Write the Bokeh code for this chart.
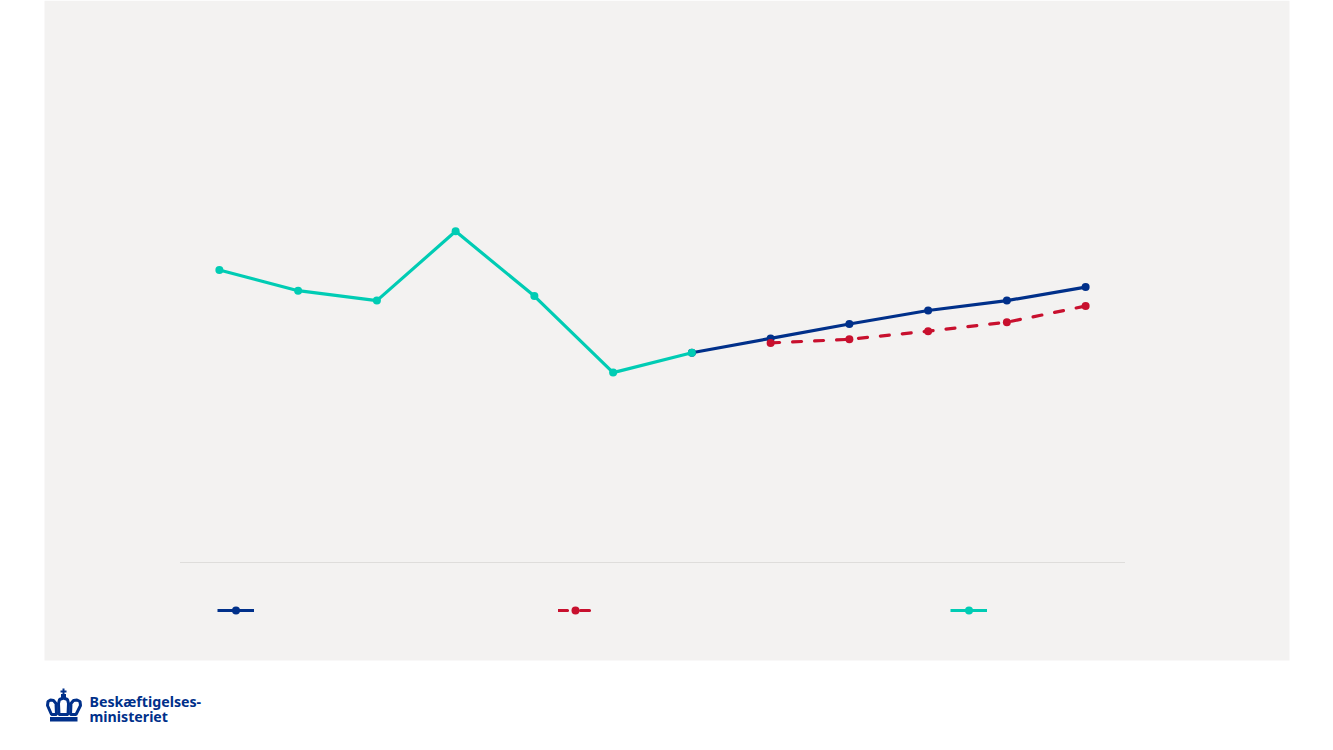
from bokeh.plotting import figure
from bokeh.models import Range1d, BoxAnnotation, PolyAnnotation, Label, Legend, LegendItem
from bokeh.embed import file_html
from bokeh.resources import INLINE

teal_x = [0, 1, 2, 3, 4, 5, 6]
teal_y = [3.25, 3.02, 2.91, 3.68, 2.96, 2.11, 2.33]
blue_x = [6, 7, 8, 9, 10, 11]
blue_y = [2.33, 2.49, 2.65, 2.80, 2.91, 3.06]
red_x = [7, 8, 9, 10, 11]
red_y = [2.44, 2.48, 2.57, 2.67, 2.85]
logo_lines = ["Beskæftigelses-", "ministeriet"]

BLUE, RED, TEAL = "#00308A", "#C8102E", "#00CCB4"
INK = "#00308A"
W, H = 1333, 750
PX_X, PX_Y = 78.75, 90.0   # pixels per unit

p = figure(width=W, height=H, output_backend="svg", toolbar_location=None,
           x_range=Range1d(-0.5 - 179.5 / PX_X, 11.5 + 208.5 / PX_X),
           y_range=Range1d(-188 / PX_Y, 562 / PX_Y),
           x_axis_location=None, y_axis_location=None,
           min_border=0,
           background_fill_color="white", border_fill_color="white", outline_line_color=None)
p.grid.visible = False


def box(l, r, t, b, color, **kw):
    p.add_layout(BoxAnnotation(left=l, right=r, top=H - t, bottom=H - b, left_units="screen", right_units="screen",
                               top_units="screen", bottom_units="screen", fill_color=color, fill_alpha=1,
                               line_color=None, **kw))


box(44, 1289, 0, 660, "#F3F2F1", level="underlay")
p.segment(x0=[-0.5], y0=[0], x1=[11.5], y1=[0], line_color="#DEDDDB", line_width=1)


def series(x, y, color, dash="solid"):
    l = p.line(x, y, line_color=color, line_width=3.2, line_dash=dash, line_cap="round" if dash != "solid" else "butt")
    m = p.scatter(x, y, size=8, marker="circle", fill_color=color, line_color=color, line_width=0)
    return [l, m]


b = series(blue_x, blue_y, BLUE)
r = series(red_x, red_y, RED, "9 13")
t = series(teal_x, teal_y, TEAL)

for rends, lx, gw in ((b, 216.5, 37), (r, 557.5, 34), (t, 950, 37)):
    lg = Legend(items=[LegendItem(label="", renderers=rends)], location=(lx, H - 620), glyph_width=gw, glyph_height=20,
                background_fill_alpha=0, border_line_color=None, margin=0, padding=0, label_standoff=0,
                label_text_font_size="1px", label_width=0, label_height=0)
    p.add_layout(lg, "center")

# logo
box(49.5, 77, 716.5, 721, INK)
for xs, ys in (([51, 47, 47.5, 50, 53, 55.5, 56], [714, 705, 701, 699.5, 700, 703, 714]),
               ([58.5, 58, 59, 63, 67, 68, 67.5], [714, 703, 699, 697.5, 699, 703, 714]),
               ([70, 70.5, 73, 76.5, 79.5, 80, 75.5], [714, 703, 700, 699.5, 701, 705, 714])):
    p.add_layout(PolyAnnotation(xs=xs, ys=[H - v for v in ys], xs_units="screen", ys_units="screen", fill_alpha=0,
                                line_color=INK, line_alpha=1, line_width=3))
box(62, 64, 688, 697, INK)
box(60, 66, 690, 692, INK)
box(60.5, 65.5, 693.5, 698, INK)
for txt, ty in zip(logo_lines, (701, 716)):
    p.add_layout(Label(x=89, y=H - ty, x_units="screen", y_units="screen", text=txt, text_font="Noto Sans",
                       text_font_style="bold", text_font_size="14.2px", text_color=INK, text_baseline="alphabetic"))

html = file_html(p, INLINE)
html = html.replace("<head>", "<head><style>html,body{margin:0;overflow:hidden}</style>", 1)
open("out.html", "w").write(html)
